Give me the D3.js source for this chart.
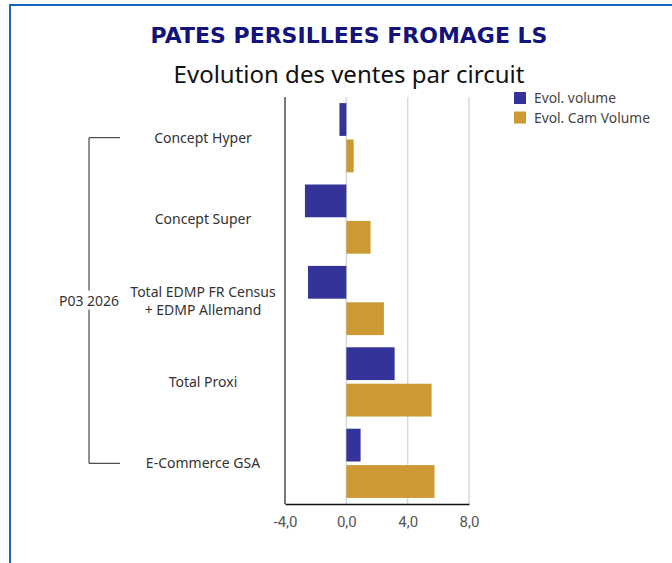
<!DOCTYPE html>
<html>
<head>
<meta charset="utf-8">
<script src="https://cdn.jsdelivr.net/npm/d3@7"></script>
<style>
  body { margin: 0; background: #fff; }
  svg { display: block; font-family: "Noto Sans", Roboto, sans-serif; }
</style>
</head>
<body>
<div id="chart"></div>
<script>
// categories (circuits) and the two series
const categories = ["Concept Hyper", "Concept Super", "Total EDMP FR Census\n+ EDMP Allemand", "Total Proxi", "E-Commerce GSA"];
const evolVolume = [-0.45, -2.7, -2.5, 3.15, 0.93];
const evolCamVolume = [0.48, 1.58, 2.45, 5.56, 5.75];
const seriesNames = ["Evol. volume", "Evol. Cam Volume"];
const seriesColors = ["#333399", "#CC9933"];
const xTicks = [-4, 0, 4, 8];
const periodLabel = "P03 2026";

const width = 672, height = 563;
const margin = {top: 97, right: 203, bottom: 59, left: 285};

const svg = d3.select("#chart").append("svg")
    .attr("width", width)
    .attr("height", height);

// frame
svg.append("rect")
    .attr("x", 10).attr("y", 5)
    .attr("width", 700).attr("height", 600)
    .attr("fill", "none")
    .attr("stroke", "#1565c0")
    .attr("stroke-width", 2);

// titles
svg.append("text")
    .attr("x", 349).attr("y", 43)
    .attr("text-anchor", "middle")
    .attr("font-family", "'DejaVu Sans', sans-serif")
    .attr("font-weight", "bold")
    .attr("font-size", 22)
    .attr("fill", "#13137a")
    .text("PATES PERSILLEES FROMAGE LS");

svg.append("text")
    .attr("x", 349).attr("y", 83)
    .attr("text-anchor", "middle")
    .attr("font-size", 24)
    .attr("fill", "#111")
    .text("Evolution des ventes par circuit");

// scales
const x = d3.scaleLinear()
    .domain([-4, 8])
    .range([margin.left, width - margin.right]);

const y = d3.scaleBand()
    .domain(categories)
    .range([margin.top, height - margin.bottom])
    .paddingInner(0.15)
    .paddingOuter(0.075);

const ySub = d3.scaleBand()
    .domain([0, 1])
    .range([0, y.bandwidth()])
    .paddingInner(0.1);

const plotBottom = height - margin.bottom;

// grid lines
svg.append("g").selectAll("line")
    .data(xTicks.slice(1))
    .join("line")
    .attr("x1", d => x(d)).attr("x2", d => x(d))
    .attr("y1", margin.top).attr("y2", plotBottom)
    .attr("stroke", "#d9d9d9")
    .attr("stroke-width", 1.5);

// bars
const rows = categories.map((c, i) => ({cat: c, vals: [evolVolume[i], evolCamVolume[i]]}));

const groups = svg.append("g").selectAll("g")
    .data(rows)
    .join("g")
    .attr("transform", d => "translate(0," + y(d.cat) + ")");

groups.selectAll("rect")
    .data(d => d.vals.map((v, k) => ({v: v, k: k})))
    .join("rect")
    .attr("x", d => x(Math.min(0, d.v)))
    .attr("width", d => Math.abs(x(d.v) - x(0)))
    .attr("y", d => ySub(d.k))
    .attr("height", ySub.bandwidth())
    .attr("fill", d => seriesColors[d.k]);

// left axis line
svg.append("line")
    .attr("x1", x(-4)).attr("x2", x(-4))
    .attr("y1", margin.top).attr("y2", plotBottom)
    .attr("stroke", "#777")
    .attr("stroke-width", 2);

// x axis
const xAxis = d3.axisBottom(x)
    .tickValues(xTicks)
    .tickSize(0)
    .tickPadding(12)
    .tickFormat(d => d.toFixed(1).replace(".", ","));

const gx = svg.append("g")
    .attr("transform", "translate(0," + plotBottom + ")")
    .call(xAxis);
gx.select(".domain").attr("stroke", "#111").attr("stroke-width", 1.5);
gx.selectAll("text")
    .attr("font-family", "Roboto, sans-serif")
    .attr("font-size", 15)
    .attr("fill", "#555");

// category labels
const labelX = 203;
categories.forEach(c => {
    const lines = c.split("\n");
    const cy = y(c) + y.bandwidth() / 2;
    const t = svg.append("text")
        .attr("x", labelX)
        .attr("text-anchor", "middle")
        .attr("font-size", 14)
        .attr("fill", "#333");
    lines.forEach((ln, i) => {
        t.append("tspan")
            .attr("x", labelX)
            .attr("y", cy + (i - (lines.length - 1) / 2) * 18 + 5)
            .text(ln);
    });
});

// period bracket
const yTop = y(categories[0]) + y.bandwidth() / 2;
const yBot = y(categories[categories.length - 1]) + y.bandwidth() / 2;
const bx = 89;
svg.append("path")
    .attr("d", "M120," + yTop + "H" + bx + "V" + yBot + "H120")
    .attr("fill", "none")
    .attr("stroke", "#222")
    .attr("stroke-width", 1);
const midY = (yTop + yBot) / 2;
svg.append("rect")
    .attr("x", 55).attr("y", midY - 10)
    .attr("width", 66).attr("height", 19)
    .attr("fill", "#fff");
svg.append("text")
    .attr("x", bx).attr("y", midY + 5)
    .attr("text-anchor", "middle")
    .attr("font-size", 14)
    .attr("fill", "#333")
    .text(periodLabel);

// legend
const legend = svg.append("g").selectAll("g")
    .data(seriesNames)
    .join("g")
    .attr("transform", (d, i) => "translate(514," + (92 + i * 19.5) + ")");
legend.append("rect")
    .attr("width", 12).attr("height", 12)
    .attr("fill", (d, i) => seriesColors[i]);
legend.append("text")
    .attr("x", 20).attr("y", 11)
    .attr("font-size", 13.8)
    .attr("fill", "#444")
    .text(d => d);
</script>
</body>
</html>
